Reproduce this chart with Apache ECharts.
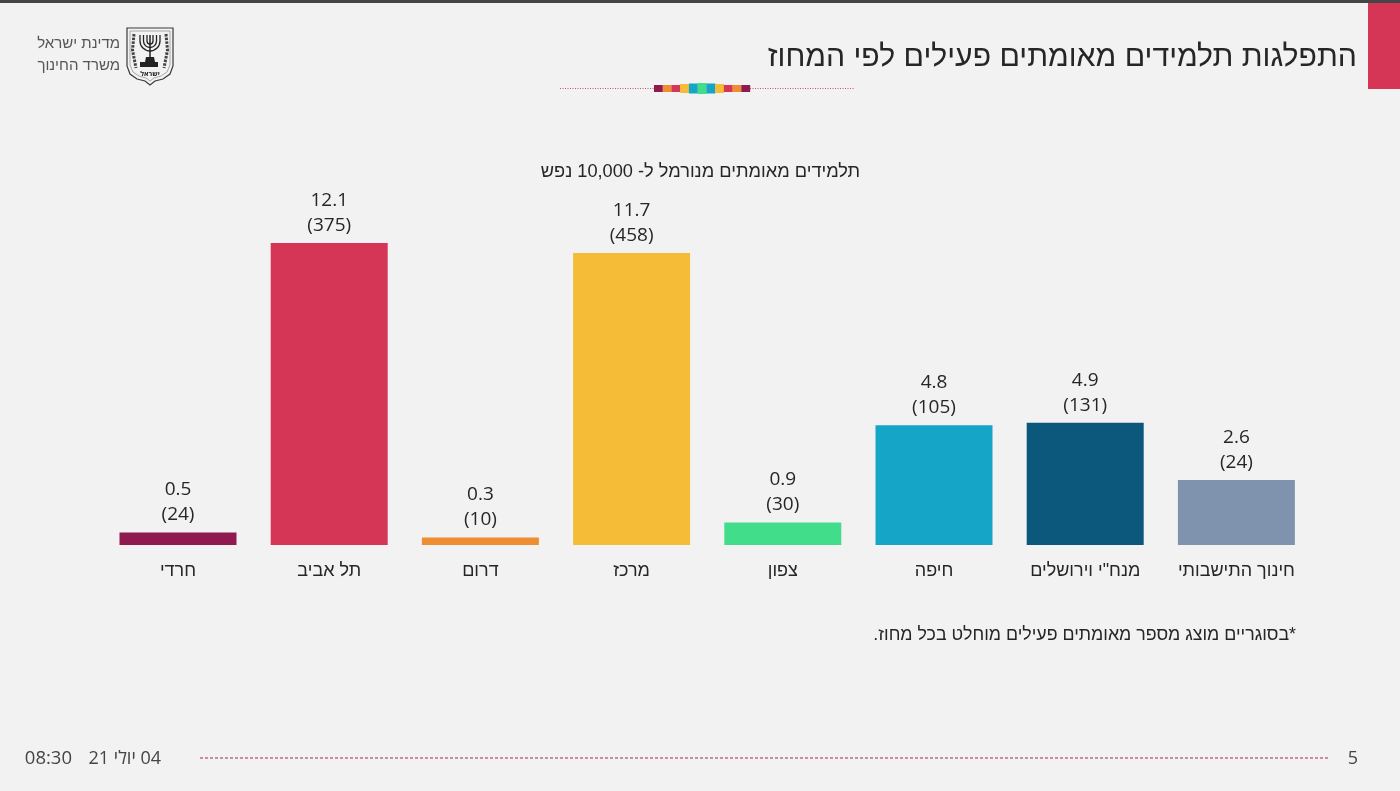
<!DOCTYPE html>
<html lang="he">
<head>
<meta charset="utf-8">
<style>
html,body{margin:0;padding:0;background:#f2f2f2;}
#chart{width:1400px;height:791px;direction:rtl;}
</style>
<script src="https://cdn.jsdelivr.net/npm/echarts@6/dist/echarts.min.js"></script>
</head>
<body>
<div id="chart"></div>
<script>
const categories = ['חרדי','תל אביב','דרום','מרכז','צפון','חיפה','מנח"י וירושלים','חינוך התישבותי'];
const normalizedRates = [0.5,12.1,0.3,11.7,0.9,4.8,4.9,2.6];
const activeCounts = [24,375,10,458,30,105,131,24];
const barColors = ['#8e1a50','#d63655','#ef8d33','#f4bc37','#42dd8a','#14a5c7','#0b587c','#8093ae'];
const stripColors = ['#8e1a50','#ef8d33','#d63655','#f4bc37','#14a5c7','#42dd8a','#14a5c7','#f4bc37','#d63655','#ef8d33','#8e1a50'];
const titleText = 'התפלגות תלמידים מאומתים פעילים לפי המחוז';
const subtitleText = 'תלמידים מאומתים מנורמל ל- 10,000 נפש';
const noteText = '*בסוגריים מוצג מספר מאומתים פעילים מוחלט בכל מחוז.';
const orgLines = ['מדינת ישראל','משרד החינוך'];
const dateText = '04 יולי 21';
const timeText = '08:30';
const pageNumber = '5';

const FONT = '"Open Sans","Liberation Sans","Noto Sans",sans-serif';
const HEB = '"Liberation Sans",sans-serif';
const txt = (x,y,text,size,color,align,extra) => ({type:'text',silent:true,style:Object.assign({x,y,text,fontSize:size,fontFamily:FONT,fill:color,textAlign:align,textVerticalAlign:'middle'},extra||{})});
const rect = (x,y,w,h,fill) => ({type:'rect',silent:true,shape:{x,y,width:w,height:h},style:{fill}});
const line = (x1,y1,x2,y2,stroke,dash,w) => ({type:'line',silent:true,shape:{x1,y1,x2,y2},style:{stroke,lineWidth:w||1,lineDash:dash}});
const poly = (points,style) => ({type:'polygon',silent:true,shape:{points},style});
const pline = (points,style) => ({type:'polyline',silent:true,shape:{points},style});

const strip = stripColors.map((c,i)=>{
  const centre = i===5, near = i===4||i===6, y2 = i===3||i===7;
  const h = centre?11:(near?10:(y2?9:7));
  return rect(654+i*8.73,88.5-h/2,8.9,h,c);
});

const ink = '#3a3a3a';
const menorahArc = (r) => ({type:'arc',silent:true,shape:{cx:150,cy:41,r,startAngle:0,endAngle:Math.PI,clockwise:true},style:{fill:'none',stroke:'#222',lineWidth:1.3}});
const emblem = [
  poly([[127,28],[173,28],[173,66],[170,74],[163,79],[155,81],[150,85],[145,81],[137,79],[130,74],[127,66]],{fill:'#f2f2f2',stroke:ink,lineWidth:1.2}),
  poly([[130,31],[170,31],[170,65],[167,72],[161,76],[154,78],[150,81],[146,78],[139,76],[133,72],[130,65]],{fill:'none',stroke:'#777',lineWidth:.6}),
  menorahArc(10),menorahArc(6.5),menorahArc(3),
  line(140,35,140,41,'#222',null,1.3),line(143.5,35,143.5,41,'#222',null,1.3),line(147,35,147,41,'#222',null,1.3),
  line(160,35,160,41,'#222',null,1.3),line(156.5,35,156.5,41,'#222',null,1.3),line(153,35,153,41,'#222',null,1.3),
  line(150,35,150,58,'#222',null,1.5),
  poly([[146,57],[154,57],[155,62],[158,62],[158,67],[140,67],[140,62],[145,62]],{fill:'#222'}),
  pline([[134,34],[132.5,50],[136,68]],{fill:'none',stroke:'#444',lineWidth:3,lineDash:[2.5,1.2]}),
  pline([[166,34],[167.5,50],[164,68]],{fill:'none',stroke:'#444',lineWidth:3,lineDash:[2.5,1.2]}),
  txt(150,73.5,'ישראל',7,'#222','center',{fontWeight:'bold'})
];

const graphicEls = [
  rect(0,0,1400,3,'#454545'),
  rect(1368,3,32,86,'#d63655'),
  txt(1357,58,titleText,30.2,'#262626','right',{fontFamily:HEB}),
  line(560,88.5,855,88.5,'#c9506f',[1,1.5]),
  ...strip,
  txt(120,44,orgLines[0],15,'#555','right',{fontFamily:HEB}),
  txt(120,66,orgLines[1],15,'#555','right',{fontFamily:HEB}),
  ...emblem,
  txt(700.5,172,subtitleText,18.2,'#262626','center',{fontFamily:HEB}),
  txt(1296,635,noteText,17.8,'#262626','right',{fontFamily:HEB}),
  txt(161,759,dateText,18,'#444','right'),
  txt(72,759,timeText,18.5,'#444','right'),
  line(200,758,1330,758,'#a3234f',[3,2]),
  txt(1358,759,pageNumber,18,'#444','right')
];

const chart = echarts.init(document.getElementById('chart'),null,{renderer:'canvas'});
chart.setOption({
  backgroundColor:'#f2f2f2',
  animation:false,
  grid:{left:102.4,width:1209.6,top:195.6,height:349.4,containLabel:false},
  xAxis:{
    type:'category',
    data:categories,
    axisLine:{show:false},
    axisTick:{show:false},
    axisLabel:{interval:0,margin:26,fontSize:18,color:'#262626',fontFamily:HEB,verticalAlign:'middle',lineHeight:20}
  },
  yAxis:{type:'value',min:0,max:14,show:false,splitLine:{show:false}},
  series:[{
    type:'bar',
    barWidth:117,
    data:normalizedRates.map((v,i)=>({value:v,itemStyle:{color:barColors[i]}})),
    label:{
      show:true,
      position:'top',
      distance:5,
      fontSize:19,
      lineHeight:25,
      color:'#262626',
      fontFamily:FONT,
      formatter:p=>normalizedRates[p.dataIndex].toFixed(1)+'\n('+activeCounts[p.dataIndex]+')'
    }
  }],
  graphic:{elements:graphicEls}
});
</script>
</body>
</html>
